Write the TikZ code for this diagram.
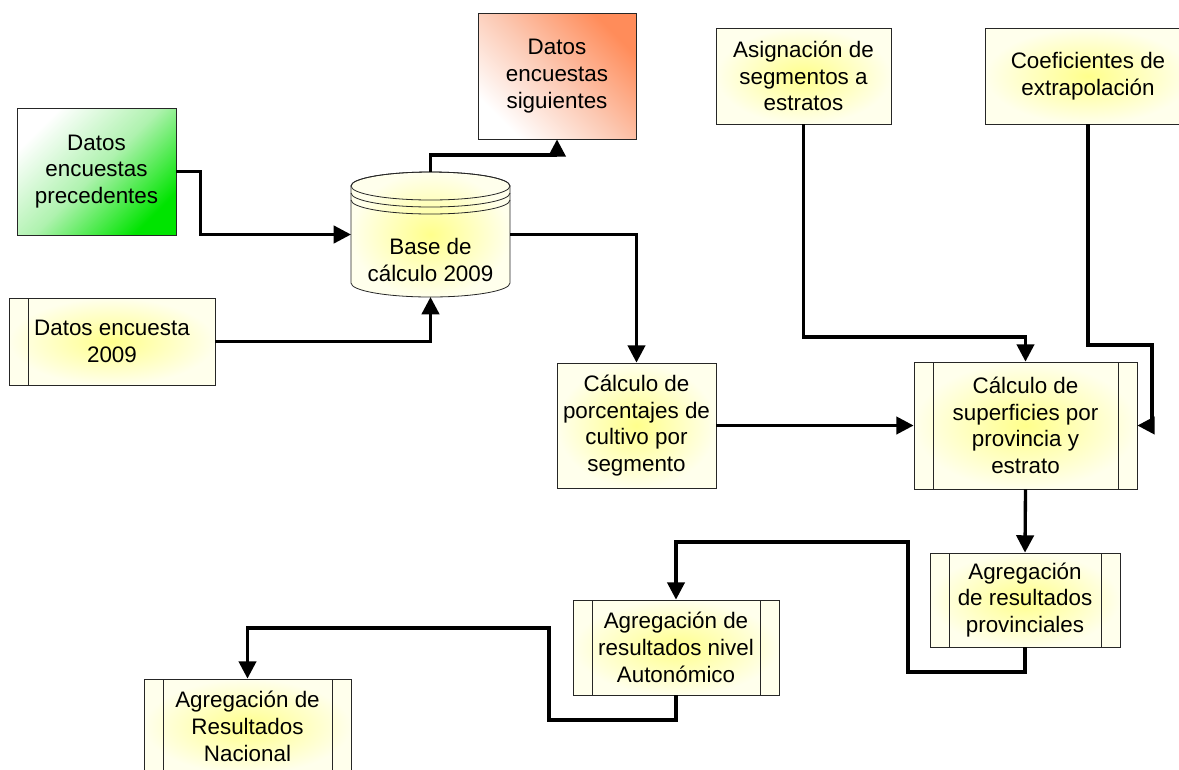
\documentclass[tikz,border=0pt]{standalone}
\usepackage{fontspec}
\setmainfont{Liberation Sans}
\usetikzlibrary{arrows.meta}

\definecolor{boxcore}{RGB}{255,255,140}
\definecolor{boxedge}{RGB}{255,255,236}
\definecolor{greenend}{RGB}{0,228,0}
\definecolor{greenmid}{RGB}{175,242,175}
\definecolor{orangeend}{RGB}{255,140,90}
\definecolor{orangemid}{RGB}{252,200,178}

\begin{document}
\begin{tikzpicture}[x=0.75pt,y=0.75pt,
  box/.style={draw=black!85,line width=0.6pt,align=center,inner sep=2pt,
    font=\fontsize{16.8}{20}\selectfont},
  yelbox/.style={box,inner color=boxcore,outer color=boxedge},
  leftbar/.style={yelbox,path picture={
    \draw[black!85,line width=0.6pt]
      ([xshift=14.25pt]path picture bounding box.north west) --
      ([xshift=14.25pt]path picture bounding box.south west);}},
  procbox/.style={yelbox,path picture={
    \draw[black!85,line width=0.6pt]
      ([xshift=14.25pt]path picture bounding box.north west) --
      ([xshift=14.25pt]path picture bounding box.south west)
      ([xshift=-14.25pt]path picture bounding box.north east) --
      ([xshift=-14.25pt]path picture bounding box.south east);}},
  cylline/.style={draw=black!85,line width=0.6pt},
  flow/.style={line width=2.5pt,-{Triangle[length=13pt,width=13pt]}}]
  \path[use as bounding box,fill=white] (0,0) rectangle (1179,-769);
  \clip (0,0) rectangle (1179,-769);

  % sources
  \node[box,top color=white,bottom color=greenend,middle color=greenmid,
    shading angle=45,minimum width=119.25pt,minimum height=95.25pt]
    (prec) at (96.5,-171.5) {Datos\\encuestas\\precedentes};
  \node[box,top color=orangeend,bottom color=white,middle color=orangemid,
    shading angle=-45,minimum width=118.5pt,minimum height=94.5pt]
    (sig) at (557,-76) {Datos\\encuestas\\siguientes};
  \node[leftbar,minimum width=154.5pt,minimum height=65.25pt]
    (enc09) at (112,-341.5) {Datos encuesta\\2009};
  \node[yelbox,minimum width=131.25pt,minimum height=72pt]
    (asig) at (803.5,-76) {Asignación de\\segmentos a\\estratos};
  \node[yelbox,minimum width=154.5pt,minimum height=72pt]
    (coef) at (1088,-76) {Coeficientes de\\extrapolación};

  % database
  \node[minimum width=119.25pt,minimum height=93.75pt,inner sep=0pt,outer sep=0pt]
    (base) at (430.5,-234.5) {};
  \path[cylline,inner color=boxcore,outer color=boxedge]
    (351,-186) -- (351,-283) arc[start angle=180,end angle=360,x radius=79.5,y radius=14]
    -- (510,-186) arc[start angle=0,end angle=180,x radius=79.5,y radius=14] -- cycle;
  \draw[cylline] (430.5,-186) ellipse[x radius=79.5,y radius=14];
  \draw[cylline] (351,-193) arc[start angle=180,end angle=360,x radius=79.5,y radius=14];
  \draw[cylline] (351,-200) arc[start angle=180,end angle=360,x radius=79.5,y radius=14];
  \node[box,draw=none] (basetext) at (430.5,-260) {Base de\\cálculo 2009};

  % processes
  \node[yelbox,minimum width=119.25pt,minimum height=93.75pt]
    (porc) at (636.5,-425.5) {Cálculo de\\porcentajes de\\cultivo por\\segmento};
  \node[procbox,minimum width=167.25pt,minimum height=95.25pt]
    (sup) at (1025.5,-425.5) {Cálculo de\\superficies por\\provincia y\\estrato};
  \node[procbox,minimum width=142.5pt,minimum height=70.5pt]
    (prov) at (1025,-600) {Agregación\\de resultados\\provinciales};
  \node[procbox,minimum width=154.5pt,minimum height=71.25pt]
    (auto) at (676,-647.5) {Agregación de\\resultados nivel\\Autonómico};
  \node[procbox,minimum width=155.25pt,minimum height=71.25pt]
    (nac) at (247.5,-726.5) {Agregación de\\Resultados\\Nacional};

  \coordinate (asigbend) at (1025.5,-337);
  \coordinate (coefbend) at (1152,-345);
  \coordinate (provlow) at (908,-672);
  \coordinate (provhigh) at (908,-542);
  \coordinate (autolow) at (549,-720);
  \coordinate (autohigh) at (549,-628);

  \draw[flow] (prec.east) -- ++(24,0) |- (base.west);
  \draw[flow] (enc09.east) -| (base.south);
  \draw[flow] (base.north) -- ++(0,17) -| (sig.south);
  \draw[flow] (base.east) -| (porc.north);
  \draw[flow] (porc.east) -- (sup.west);
  \draw[flow] (asig.south) |- (asigbend) -- (sup.north);
  \draw[flow] (coef.south) |- (coefbend) |- (sup.east);
  \draw[flow] (sup.south) -- (prov.north);
  \draw[flow] (prov.south) |- (provlow) -- (provhigh) -| (auto.north);
  \draw[flow] (auto.south) |- (autolow) -- (autohigh) -| (nac.north);
\end{tikzpicture}
\end{document}
